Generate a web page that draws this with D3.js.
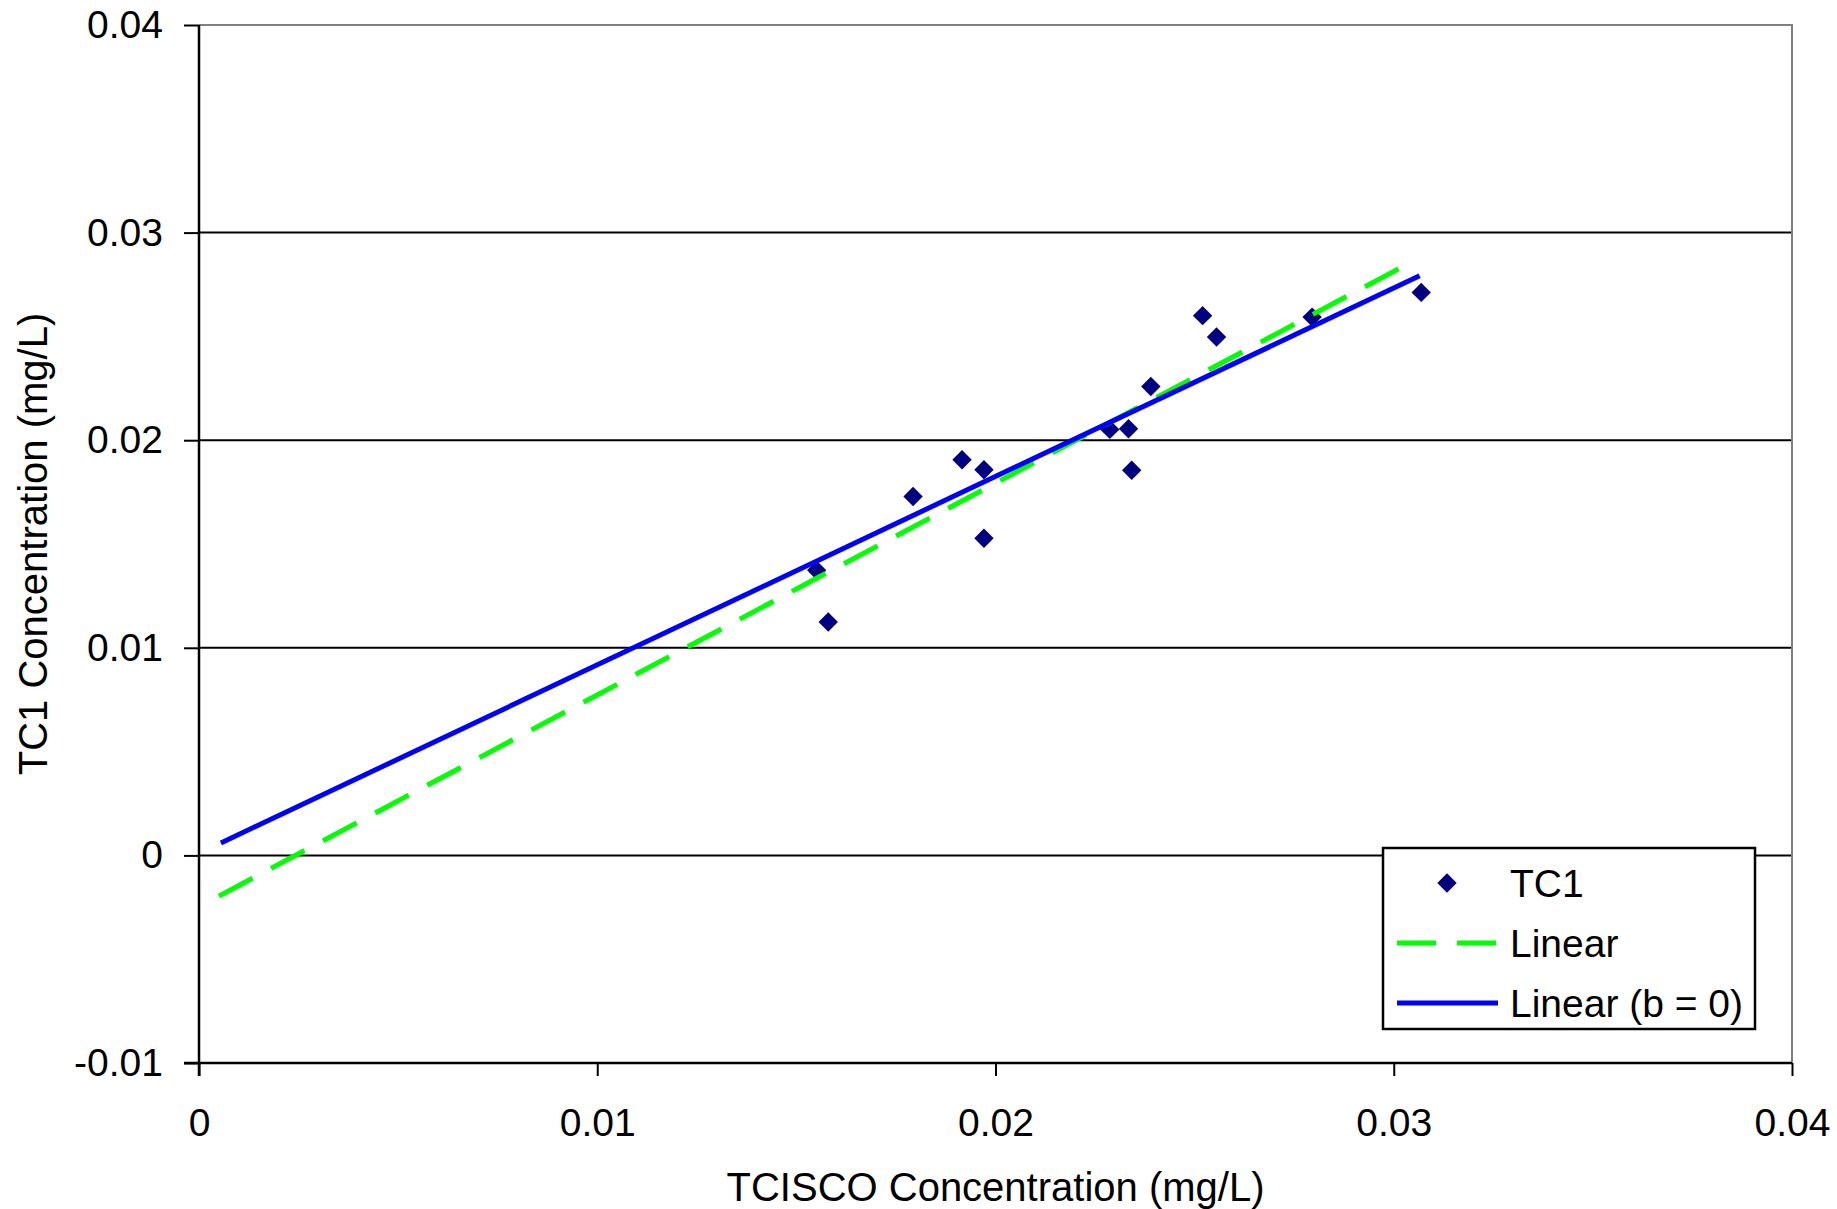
<!DOCTYPE html>
<html>
<head>
<meta charset="utf-8">
<script src="https://cdn.jsdelivr.net/npm/d3@7"></script>
<style>
  body { margin: 0; background: #fff; }
  text { font-family: "Liberation Sans", Arial, sans-serif; fill: #000; }
  .axis text { font-size: 39px; }
  .chart-label { font-size: 40px; }
  .legend { font-size: 39px; }
</style>
</head>
<body>
<div id="scatter_container"></div>
<script>
// TC1 vs TCISCO measurements (mg/L)
const tcisco = [0.01551, 0.0158, 0.01793, 0.01916, 0.01971, 0.01971, 0.02287,
  0.02334, 0.02342, 0.0239, 0.0252, 0.02555, 0.02795, 0.03069];
const tc1 = [0.01373, 0.01124, 0.01729, 0.01906, 0.01858, 0.01528, 0.02052,
  0.02055, 0.01855, 0.02259, 0.026, 0.02497, 0.02593, 0.02712];

// trend line end points as drawn
const linearX = [0.0005, 0.03048];
const linearY = [-0.00196, 0.02862];
const linearB0X = [0.00055, 0.03065];
const linearB0Y = [0.0006, 0.02792];

const xTicks = [0, 0.01, 0.02, 0.03, 0.04];
const xTickLabels = ["0", "0.01", "0.02", "0.03", "0.04"];
const yTicks = [-0.01, 0, 0.01, 0.02, 0.03, 0.04];
const yTickLabels = ["-0.01", "0", "0.01", "0.02", "0.03", "0.04"];
const gridValues = [0, 0.01, 0.02, 0.03];

class ScatterChart {
  constructor(containerId) {
    this.margin = { top: 25, right: 45, bottom: 146, left: 199 };
    this.width = 1837 - this.margin.left - this.margin.right;
    this.height = 1209 - this.margin.top - this.margin.bottom;
    this.containerId = containerId;
  }

  createSVG() {
    this.svg = d3
      .select(`#${this.containerId}`)
      .append("svg")
      .attr("width", 1837)
      .attr("height", 1209)
      .append("g")
      .attr("transform", `translate(${this.margin.left}, ${this.margin.top})`);
  }

  createScales() {
    this.xScale = d3.scaleLinear().domain([0, 0.04]).range([0, this.width]);
    this.yScale = d3.scaleLinear().domain([-0.01, 0.04]).range([this.height, 0]);
  }

  createGridLines() {
    this.svg
      .append("g")
      .selectAll("line")
      .data(gridValues)
      .join("line")
      .attr("x1", 0)
      .attr("x2", this.width)
      .attr("y1", (d) => this.yScale(d))
      .attr("y2", (d) => this.yScale(d))
      .attr("stroke", "#000")
      .attr("stroke-width", 2);
    // plot frame top/right in grey
    this.svg
      .append("path")
      .attr("d", `M0,${this.yScale(0.04)}H${this.width}V${this.height}`)
      .attr("fill", "none")
      .attr("stroke", "#808080")
      .attr("stroke-width", 2);
  }

  createAxes() {
    const yAxis = this.svg
      .append("g")
      .attr("class", "axis")
      .call(
        d3.axisLeft(this.yScale)
          .tickValues(yTicks)
          .tickSize(15)
          .tickPadding(21)
          .tickFormat((d, i) => yTickLabels[i])
      );
    const xAxis = this.svg
      .append("g")
      .attr("class", "axis")
      .attr("transform", `translate(0, ${this.height})`)
      .call(
        d3.axisBottom(this.xScale)
          .tickValues(xTicks)
          .tickSize(13)
          .tickPadding(32)
          .tickFormat((d, i) => xTickLabels[i])
      );
    [xAxis, yAxis].forEach((g) => {
      g.selectAll(".domain").remove();
      g.selectAll("line").attr("stroke", "#000").attr("stroke-width", 2);
      g.selectAll("text").attr("font-family", null).attr("font-size", null);
    });
    this.svg
      .append("line")
      .attr("x1", 0).attr("x2", 0)
      .attr("y1", 0).attr("y2", this.height + 13)
      .attr("stroke", "#000").attr("stroke-width", 2.5);
    this.svg
      .append("line")
      .attr("x1", -15).attr("x2", this.width)
      .attr("y1", this.height).attr("y2", this.height)
      .attr("stroke", "#000").attr("stroke-width", 2.5);
  }

  createPoints() {
    const diamond = d3.symbol().type(d3.symbolDiamond2).size(240);
    this.svg
      .append("g")
      .selectAll("path")
      .data(tcisco.map((x, i) => ({ x: x, y: tc1[i] })))
      .join("path")
      .attr("d", diamond)
      .attr("transform", (d) => `translate(${this.xScale(d.x)}, ${this.yScale(d.y)})`)
      .attr("fill", "#000080");
  }

  createTrendLines() {
    const line = d3.line()
      .x((d) => this.xScale(d[0]))
      .y((d) => this.yScale(d[1]));
    this.svg
      .append("path")
      .attr("d", line(linearX.map((x, i) => [x, linearY[i]])))
      .attr("fill", "none")
      .attr("stroke", "#00ff00")
      .attr("stroke-width", 5)
      .attr("stroke-dasharray", "38 21");
    this.svg
      .append("path")
      .attr("d", line(linearB0X.map((x, i) => [x, linearB0Y[i]])))
      .attr("fill", "none")
      .attr("stroke", "#0000ff")
      .attr("stroke-width", 5);
  }

  setXAxisLabel(label) {
    this.svg
      .append("text")
      .attr("class", "chart-label")
      .attr("x", this.width / 2)
      .attr("y", 1187 - this.margin.top)
      .attr("dy", "0.35em")
      .attr("text-anchor", "middle")
      .text(label);
  }

  setYAxisLabel(label) {
    this.svg
      .append("text")
      .attr("class", "chart-label")
      .attr("transform", `translate(${33 - this.margin.left}, ${this.height / 2}) rotate(-90)`)
      .attr("dy", "0.35em")
      .attr("text-anchor", "middle")
      .text(label);
  }

  createLegend() {
    const lx = 1383 - this.margin.left;
    const ly = 848 - this.margin.top;
    const g = this.svg.append("g").attr("transform", `translate(${lx}, ${ly})`);
    g.append("rect")
      .attr("width", 372)
      .attr("height", 181)
      .attr("fill", "#fff")
      .attr("stroke", "#000")
      .attr("stroke-width", 2.5);
    g.append("path")
      .attr("d", d3.symbol().type(d3.symbolDiamond2).size(240))
      .attr("transform", "translate(64, 35)")
      .attr("fill", "#000080");
    g.append("line")
      .attr("x1", 14).attr("x2", 113)
      .attr("y1", 95).attr("y2", 95)
      .attr("stroke", "#00ff00")
      .attr("stroke-width", 5)
      .attr("stroke-dasharray", "39 21");
    g.append("line")
      .attr("x1", 14).attr("x2", 115)
      .attr("y1", 155).attr("y2", 155)
      .attr("stroke", "#0000ff")
      .attr("stroke-width", 5);
    const labels = ["TC1", "Linear", "Linear (b = 0)"];
    g.selectAll("text")
      .data(labels)
      .join("text")
      .attr("class", "legend")
      .attr("x", 127)
      .attr("y", (d, i) => 35 + i * 60)
      .attr("dy", "0.35em")
      .text((d) => d);
  }

  render() {
    this.createSVG();
    this.createScales();
    this.createGridLines();
    this.createAxes();
    this.createPoints();
    this.createTrendLines();
    this.setXAxisLabel("TCISCO Concentration (mg/L)");
    this.setYAxisLabel("TC1 Concentration (mg/L)");
    this.createLegend();
  }
}

const scatterChart = new ScatterChart("scatter_container");
scatterChart.render();
</script>
</body>
</html>
